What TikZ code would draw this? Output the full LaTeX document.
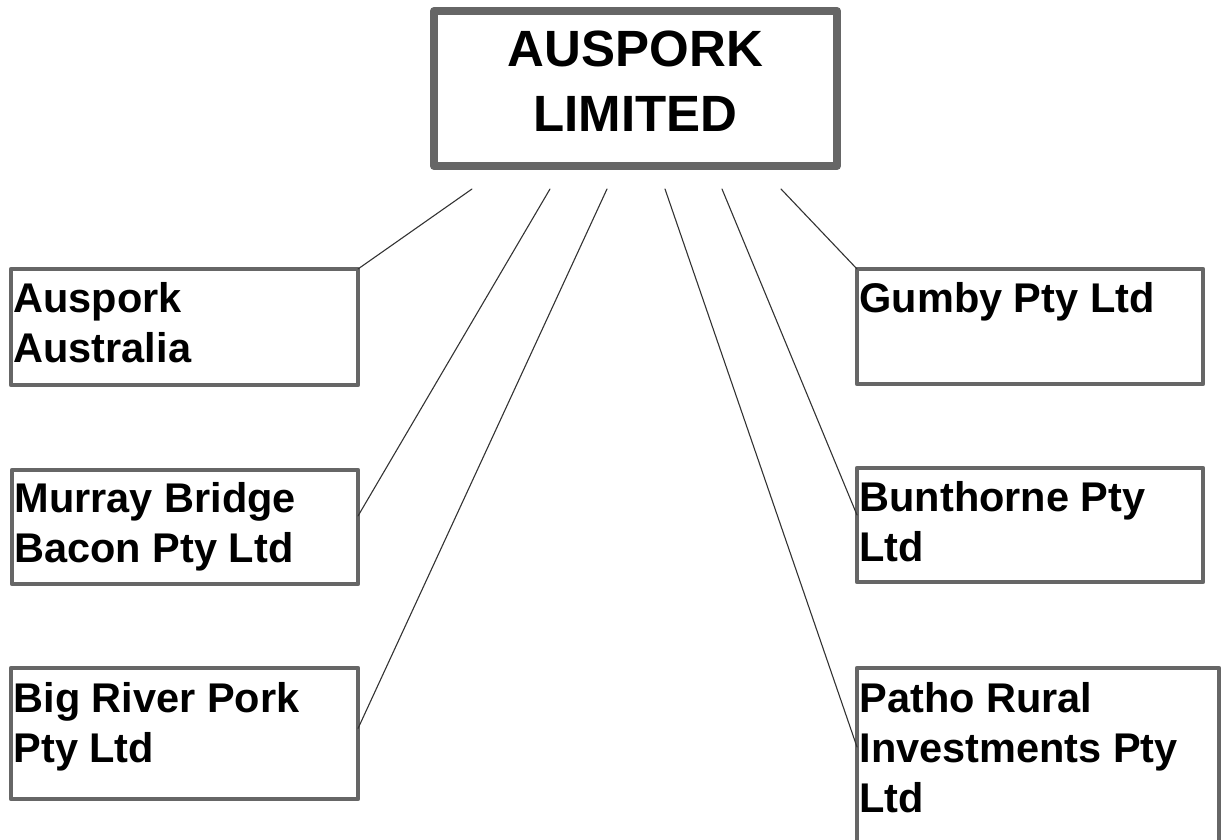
\documentclass[tikz,border=0pt]{standalone}
\usepackage{fontspec}
\setmainfont{Liberation Sans}
\definecolor{boxgray}{HTML}{666666}
\definecolor{linkgray}{HTML}{333333}
\begin{document}
\begin{tikzpicture}[x=1pt, y=1pt, line cap=round, line join=round,
  parent/.style={draw=boxgray, line width=8pt, line cap=butt, inner sep=0pt, outer sep=0pt,
    anchor=north west, font=\bfseries\fontsize{51}{65}\selectfont},
  firm/.style={draw=boxgray, line width=4.5pt, line cap=butt, inner sep=0pt, outer sep=0pt,
    anchor=north west, font=\bfseries\fontsize{41.5}{50}\selectfont},
  link/.style={draw=linkgray, line width=1.1pt}]
  \clip (0, 0) rectangle (1221, 840);

  % Parent company
  \node[parent, minimum width=403pt, text height=56pt, text depth=99pt] (auspork) at (434, 829)
    {\parbox[t]{395pt}{\centering AUSPORK\\LIMITED}};

  % Subsidiaries, left column
  \node[firm, minimum width=347pt, text height=44pt, text depth=72pt] (aus) at (11, 571)
    {\parbox[t]{342pt}{Auspork\\Australia}};
  \node[firm, minimum width=346pt, text height=43pt, text depth=71pt] (mbb) at (12, 370)
    {\parbox[t]{341pt}{Murray Bridge\\Bacon Pty Ltd}};
  \node[firm, minimum width=347pt, text height=45pt, text depth=86pt] (brp) at (11, 172)
    {\parbox[t]{342pt}{Big River Pork\\Pty Ltd}};

  % Subsidiaries, right column
  \node[firm, minimum width=346pt, text height=44pt, text depth=71pt] (gum) at (857, 571)
    {\parbox[t]{341pt}{Gumby Pty Ltd}};
  \node[firm, minimum width=346pt, text height=44pt, text depth=70pt] (bun) at (857, 372)
    {\parbox[t]{341pt}{Bunthorne Pty\\Ltd}};
  \node[firm, minimum width=362pt, text height=45pt, text depth=147pt] (pat) at (857, 172)
    {\parbox[t]{357pt}{Patho Rural\\Investments Pty\\Ltd}};

  % Links
  \foreach \n/\px in {1/472, 2/550, 3/607, 4/665, 5/722, 6/781}
    \coordinate (top\n) at (\px, 651);
  \draw[link] (top1) -- (aus.north east);
  \draw[link] (top2) -- ([yshift=11pt]mbb.east);
  \draw[link] (top3) -- ([yshift=5pt]brp.east);
  \draw[link] (top4) -- ([yshift=17pt]pat.west);
  \draw[link] (top5) -- ([yshift=10pt]bun.west);
  \draw[link] (top6) -- (gum.north west);
\end{tikzpicture}
\end{document}
